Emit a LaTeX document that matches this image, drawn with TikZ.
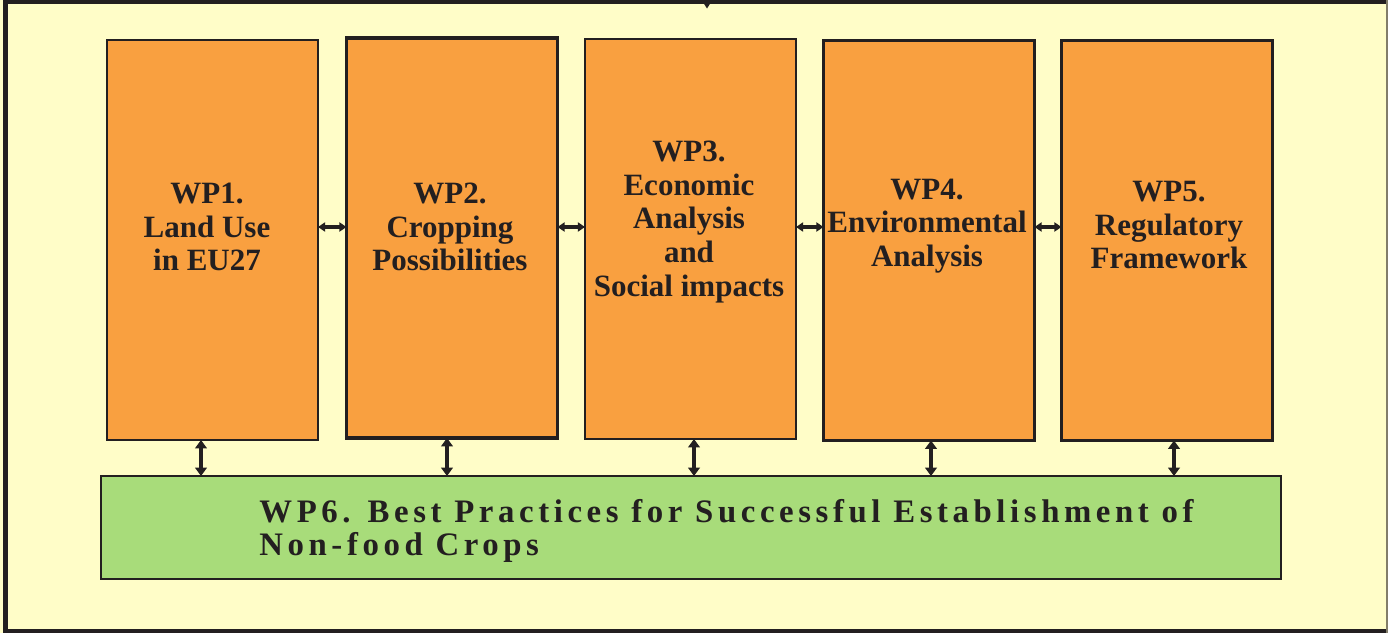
\documentclass[tikz,border=0pt]{standalone}
\usepackage{fontspec}
\setmainfont{Liberation Serif}
\usetikzlibrary{arrows.meta,calc}
\definecolor{bg}{RGB}{255,253,200}
\definecolor{org}{RGB}{249,160,64}
\definecolor{grn}{RGB}{168,220,122}
\definecolor{ink}{RGB}{35,31,32}
\definecolor{edge}{RGB}{130,125,105}
\begin{document}
\begin{tikzpicture}[x=0.5pt,y=-0.5pt,
  wpbox/.style={draw=ink,fill=org,line width=1.25pt,inner sep=0pt,outer sep=0pt,minimum width=105.5pt,minimum height=200pt},
  wptext/.style={font=\bfseries\fontsize{15.5}{16.9}\selectfont,align=center,text=ink,inner sep=0pt},
  harr/.style={draw=ink,line width=1.6pt,{Triangle[width=4.6pt,length=3.6pt]}-{Triangle[width=4.6pt,length=3.6pt]}},
  varr/.style={draw=ink,line width=2.3pt,{Triangle[width=5.8pt,length=4.2pt]}-{Triangle[width=5.8pt,length=4.2pt]}},
  frame/.style={draw=ink,line width=2.2pt}]
\useasboundingbox (0,0) rectangle (1388,633);
\fill[bg] (0,0) rectangle (1388,633);
% outer frame
\draw[frame] (5.5,0) -- (5.5,633);
\draw[frame] (3,2) -- (1388,2);
\draw[frame] (3,631) -- (1388,631);
\draw[edge,line width=0.8pt] (1387,0) -- (1387,633);
\fill[ink] (703.5,3) -- (710.5,3) -- (707,8.5) -- cycle;
% work package boxes
\node[wpbox] (wp1) at (212.5,240) {};
\node[wpbox,line width=1.6pt] (wp2) at (452,238) {};
\node[wpbox] (wp3) at (690.5,239) {};
\node[wpbox] (wp4) at (929,240.5) {};
\node[wpbox] (wp5) at (1167,240.5) {};
\node[draw=ink,fill=grn,line width=1pt,inner sep=0pt,outer sep=0pt,minimum width=590pt,minimum height=51.5pt] (wp6) at (691,527.5) {};
% texts
\node[wptext] (t1) at (207,227) {WP1.\\Land Use\\in EU27};
\node[wptext] (t2) at (450,227) {WP2.\\Cropping\\Possibilities};
\node[wptext] (t3) at (689,222) {WP3.\\Economic\\Analysis\\and\\Social impacts};
\node[wptext] (t4) at (927,226) {WP4.\\Environmental\\Analysis};
\node[wptext] (t5) at (1169,225) {WP5.\\Regulatory\\Framework};
\node[anchor=west,align=left,text=ink,inner sep=0pt,font=\bfseries\fontsize{16.4}{16.4}\selectfont\addfontfeature{LetterSpace=14}] (t6) at (259,531) {WP6. Best Practices for Successful Establishment of\\Non-food Crops};
% horizontal connectors
\coordinate (hy) at (0,227);
\draw[harr] (wp1.east |- hy) -- (wp2.west |- hy);
\draw[harr] (wp2.east |- hy) -- (wp3.west |- hy);
\draw[harr] (wp3.east |- hy) -- (wp4.west |- hy);
\draw[harr] (wp4.east |- hy) -- (wp5.west |- hy);
% vertical connectors
\coordinate (v1) at (201,0);
\coordinate (v2) at (447,0);
\coordinate (v3) at (694,0);
\coordinate (v4) at (931,0);
\coordinate (v5) at (1174,0);
\draw[varr] (wp1.south -| v1) -- (wp6.north -| v1);
\draw[varr] (wp2.south -| v2) -- (wp6.north -| v2);
\draw[varr] (wp3.south -| v3) -- (wp6.north -| v3);
\draw[varr] (wp4.south -| v4) -- (wp6.north -| v4);
\draw[varr] (wp5.south -| v5) -- (wp6.north -| v5);
\end{tikzpicture}
\end{document}
